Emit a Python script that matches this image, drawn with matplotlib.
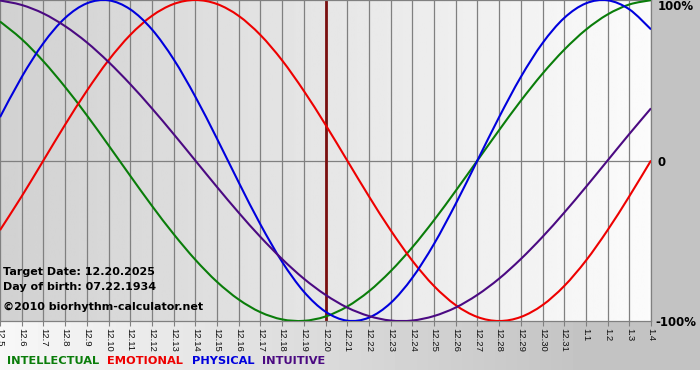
import numpy as np
import matplotlib.pyplot as plt
from matplotlib.path import Path
from matplotlib.patches import PathPatch

# day labels along the bottom (12.5 .. 1.4)
days = ["12.5", "12.6", "12.7", "12.8", "12.9", "12.10", "12.11", "12.12",
        "12.13", "12.14", "12.15", "12.16", "12.17", "12.18", "12.19", "12.20",
        "12.21", "12.22", "12.23", "12.24", "12.25", "12.26", "12.27", "12.28",
        "12.29", "12.30", "12.31", "1.1", "1.2", "1.3", "1.4"]
target_day = "12.20"

# cycle values, one per day (-1 .. 1)
intellectual = [0.866, 0.756, 0.618, 0.458, 0.282, 0.095, -0.095, -0.282,
                -0.458, -0.618, -0.756, -0.866, -0.945, -0.990, -0.999, -0.972,
                -0.910, -0.815, -0.690, -0.541, -0.372, -0.189, 0.000, 0.189,
                0.372, 0.541, 0.690, 0.815, 0.910, 0.972, 0.999]
emotional = [-0.434, -0.223, 0.000, 0.223, 0.434, 0.624, 0.782, 0.901,
             0.975, 1.000, 0.975, 0.901, 0.782, 0.624, 0.434, 0.223,
             0.000, -0.223, -0.434, -0.624, -0.782, -0.901, -0.975, -1.000,
             -0.975, -0.901, -0.782, -0.624, -0.434, -0.223, 0.000]
physical = [0.270, 0.520, 0.731, 0.888, 0.979, 0.998, 0.942, 0.817,
            0.631, 0.398, 0.136, -0.136, -0.398, -0.631, -0.817, -0.942,
            -0.998, -0.979, -0.888, -0.731, -0.520, -0.270, 0.000, 0.270,
            0.520, 0.731, 0.888, 0.979, 0.998, 0.942, 0.817]
intuitive = [0.997, 0.969, 0.916, 0.837, 0.736, 0.614, 0.476, 0.325,
             0.165, 0.000, -0.165, -0.325, -0.476, -0.614, -0.736, -0.837,
             -0.916, -0.969, -0.997, -0.997, -0.969, -0.916, -0.837, -0.736,
             -0.614, -0.476, -0.325, -0.165, 0.000, 0.165, 0.325]

series = [("INTELLECTUAL", intellectual, "#0a7d0a"),
          ("EMOTIONAL", emotional, "#ee0000"),
          ("PHYSICAL", physical, "#0000dd"),
          ("INTUITIVE", intuitive, "#4b0a82")]


def smooth_path(xs, ys):
    # Catmull-Rom through the daily points, drawn as cubic bezier segments
    p = np.column_stack([xs, ys]).astype(float)
    pp = np.vstack([p[0], p, p[-1]])
    verts = [p[0]]
    codes = [Path.MOVETO]
    for i in range(len(p) - 1):
        p0, p1, p2, p3 = pp[i], pp[i + 1], pp[i + 2], pp[i + 3]
        verts += [p1 + (p2 - p0) / 6, p2 - (p3 - p1) / 6, p2]
        codes += [Path.CURVE4] * 3
    return Path(verts, codes)


W, H = 700, 380
fig = plt.figure(figsize=(W / 100, H / 100), dpi=100)

# outer background: white -> gray to the right, white strip at the bottom
bg = fig.add_axes([0, 0, 1, 1], zorder=-2)
col = np.clip(0.97 - 0.21 * np.arange(W) / 600, 0.765, 1)
img = np.tile(col, (H, 1))
img[370:, :] = 1.0
bg.imshow(img, cmap="gray", vmin=0, vmax=1, aspect="auto", interpolation="bilinear")
bg.axis("off")

ax = fig.add_axes([0, (H - 321) / H, 651 / W, 321 / H])
x = np.arange(len(days))
n = len(days) - 1
grad = np.linspace(0.82, 0.985, 300)[None, :]
ax.imshow(grad, cmap="gray", vmin=0, vmax=1, aspect="auto",
          extent=[0, n, -1, 1], zorder=0)

ax.set_xlim(0, n)
ax.set_ylim(-1, 1)
ax.set_xticks(x)
ax.set_xticklabels(days, rotation=-90, fontsize=6.8, family="Liberation Sans",
                   color="#111111")
ax.tick_params(axis="x", length=3.5, width=0.8, color="#808080", pad=1.5)
ax.set_yticks([])
ax.grid(axis="x", color="#808080", lw=0.9, zorder=1)
ax.axhline(0, color="#808080", lw=0.9, zorder=1)
for side in ["top", "bottom", "right"]:
    ax.spines[side].set_color("#808080")
    ax.spines[side].set_linewidth(0.9)
ax.spines["left"].set_visible(False)

ax.axvline(days.index(target_day), color="#7a1010", lw=2, zorder=2)

for name, vals, c in series:
    ax.add_patch(PathPatch(smooth_path(x, vals), facecolor="none",
                           edgecolor=c, lw=1.5, zorder=3))

def px(xp, yp):
    return xp / W, 1 - yp / H

bold = dict(fontsize=8, fontweight="bold", family="DejaVu Sans", va="center")
fig.text(*px(3, 272), "Target Date: 12.20.2025", **bold)
fig.text(*px(3, 287), "Day of birth: 07.22.1934", **bold)
fig.text(*px(3, 307), "\u00a92010 biorhythm-calculator.net", **bold)

side = dict(bold, fontsize=8.5)
fig.text(*px(658, 7), "100%", **side)
fig.text(*px(658, 162), "0", **side)
fig.text(*px(655, 322), "-100%", **side)

# legend row
starts = [7, 107, 192, 262]
for (name, vals, c), xs in zip(series, starts):
    fig.text(*px(xs, 361), name, color=c, fontsize=8.2, fontweight="bold",
             family="DejaVu Sans", va="center")

fig.savefig("out.png", dpi=100)
